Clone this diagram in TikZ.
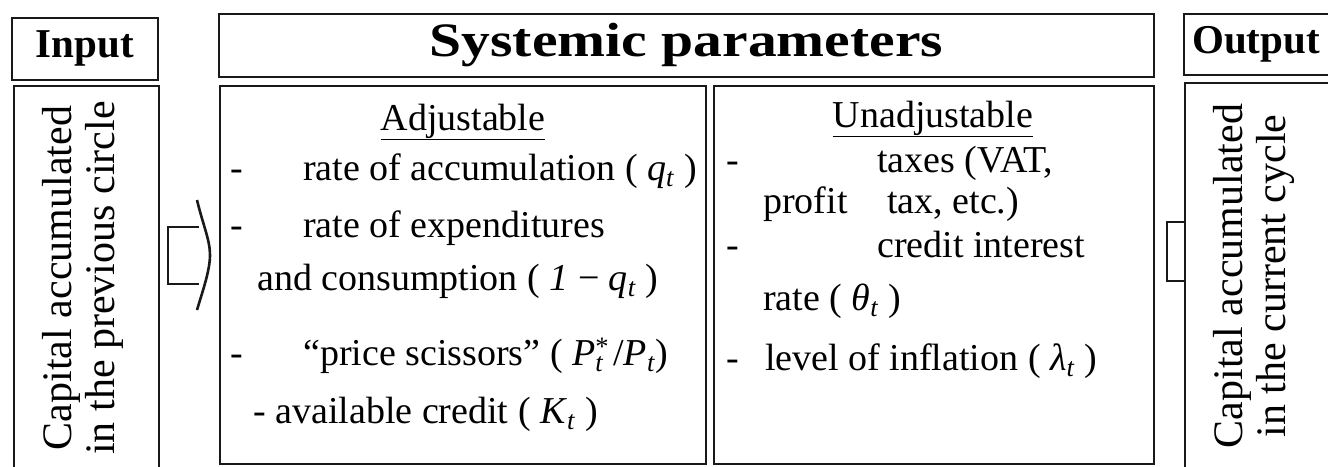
\documentclass[tikz,border=0pt]{standalone}
\usepackage{fontspec}
\setmainfont{Liberation Serif}
\usetikzlibrary{positioning}
\newcommand\varsub[2]{\textit{#1}\textsubscript{\textit{#2}}}
\newcommand\varsubsup[3]{\textit{#1}\rlap{\textsuperscript{#3}}\textsubscript{\textit{#2}}}
\tikzset{
  frame/.style ={draw=black!90,line width=1.8pt,inner sep=0pt,anchor=north west},
  hdr/.style   ={font=\fontsize{41}{44}\selectfont\bfseries,inner sep=0pt},
  txt/.style   ={font=\fontsize{38}{44}\selectfont,inner sep=0pt,anchor=base west},
  ttl/.style   ={txt,anchor=base},
  vtxt/.style  ={font=\fontsize{42}{43}\selectfont,align=center,rotate=90,inner sep=0pt},
  pipe/.style  ={line width=2pt,black!90},
}

\begin{document}
\begin{tikzpicture}[x=1pt,y=-1pt]
\useasboundingbox (0,0) rectangle (1328,466);

% frames
\node[frame,minimum width=146pt,minimum height=62pt] (inhead) at (11,17) {};
\node[frame,minimum width=145pt,minimum height=390pt] (inbody) at (13,85) {};
\node[frame,minimum width=935pt,minimum height=63pt] (syshead) at (218,13) {};
\node[frame,minimum width=486pt,minimum height=378pt] (adjbox) at (219,85) {};
\node[frame,minimum width=440pt,minimum height=378pt] (unadjbox) at (713,85) {};
\node[frame,minimum width=160pt,minimum height=61pt] (outhead) at (1183,13) {};
\node[frame,minimum width=160pt,minimum height=395pt] (outbody) at (1184,82) {};

% headings
\node[hdr] (intitle) at (inhead.center) {Input};
\node[hdr,font=\fontsize{48}{50}\selectfont\bfseries] (systitle) at (syshead.center)
  {\scalebox{1.2}[1]{Systemic parameters}};
\node[hdr] (outtitle) at (1256,44) {Output};

\node[vtxt] (incap) at (83,278) {Capital accumulated\\in the previous circle};
\node[vtxt] (outcap) at (1254,276) {Capital accumulated\\in the current cycle};

% adjustable
\node[ttl] (adjttl) at (463,130) {\underline{Adjustable}};
\node[txt] (ad1) at (230,180) {-};
\node[txt] (a1) at (303,180) {rate of accumulation ( \varsub{q}{t} )};
\node[txt] (ad2) at (230,237) {-};
\node[txt] (a2) at (303,237) {rate of expenditures};
\node[txt] (a3) at (257,290) {and consumption ( \textit{1} − \varsub{q}{t} )};
\node[txt] (ad4) at (230,365) {-};
\node[txt] (a4) at (303,365) {``price scissors'' ( \varsubsup{P}{t}{*} /\varsub{P}{t})};
\node[txt] (a5) at (253,423) {- available credit ( \varsub{K}{t} )};

% unadjustable
\node[ttl] (unadjttl) at (933,127) {\underline{Unadjustable}};
\node[txt] (ud1) at (726,172) {-};
\node[txt] (u1) at (877,172) {taxes (VAT,};
\node[txt] (u2a) at (763,213) {profit};
\node[txt] (u2b) at (887,213) {tax, etc.)};
\node[txt] (ud3) at (726,257) {-};
\node[txt] (u3) at (877,257) {credit interest};
\node[txt] (u4) at (763,310) {rate ( \varsub{θ}{t} )};
\node[txt] (ud5) at (726,370) {-};
\node[txt] (u5) at (765,370) {level of inflation ( \varsub{λ}{t} )};

% flow in and out
\draw[pipe] (199,227) -- (168,227) -- (168,284) -- (199,284);
\draw[pipe,line width=2.6pt] (197,200) .. controls (203,225) and (210,240) .. (210,255)
  .. controls (210,270) and (203,290) .. (197,310);
\draw[pipe] (outbody.west |- 0,222) -- (1167,222) -- (1167,281) -- (outbody.west |- 0,281);
\end{tikzpicture}
\end{document}
